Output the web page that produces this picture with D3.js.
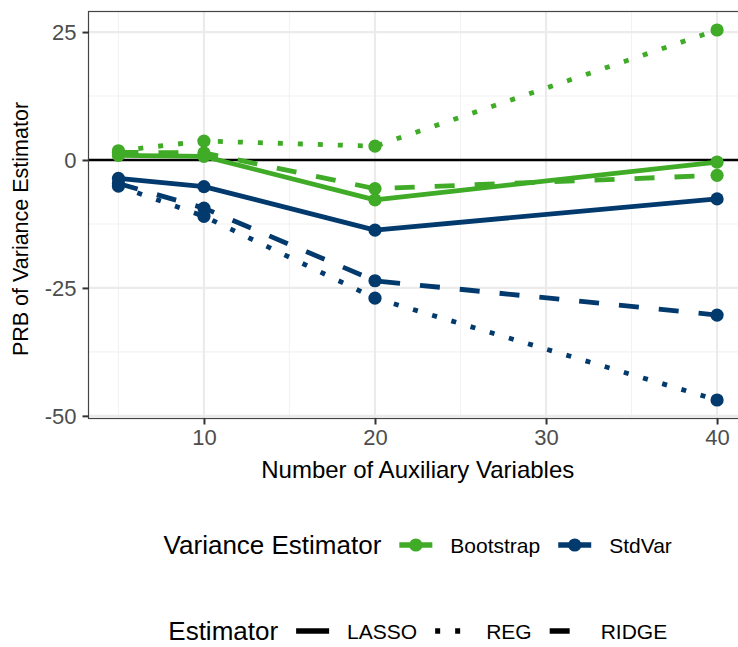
<!DOCTYPE html>
<html>
<head>
<meta charset="utf-8">
<script src="https://cdn.jsdelivr.net/npm/d3@7"></script>
<style>
  html, body { margin: 0; padding: 0; background: #fff; }
  svg { display: block; font-family: "Liberation Sans", Arial, Helvetica, sans-serif; }
</style>
</head>
<body>
<svg id="chart" width="738" height="647"></svg>
<script>
// ---- data ----
const auxVars = [5, 10, 20, 40];
const varianceEstimators = ["Bootstrap", "StdVar"];
const estimators = ["LASSO", "REG", "RIDGE"];
const bootstrapLASSO = [0.9, 0.7, -7.8, -0.4];
const bootstrapREG   = [1.8, 3.7, 2.7, 25.4];
const bootstrapRIDGE = [1.5, 1.4, -5.6, -3.0];
const stdvarLASSO    = [-3.6, -5.2, -13.7, -7.6];
const stdvarREG      = [-5.1, -11.0, -27.0, -46.9];
const stdvarRIDGE    = [-4.6, -9.4, -23.6, -30.3];
const xTicks = [10, 20, 30, 40];
const yTicks = [-50, -25, 0, 25];
const yTickLabels = ["-50", "-25", "0", "25"];

const seriesList = [
  { ve: "Bootstrap", est: "LASSO", values: bootstrapLASSO },
  { ve: "Bootstrap", est: "REG",   values: bootstrapREG },
  { ve: "Bootstrap", est: "RIDGE", values: bootstrapRIDGE },
  { ve: "StdVar",    est: "LASSO", values: stdvarLASSO },
  { ve: "StdVar",    est: "REG",   values: stdvarREG },
  { ve: "StdVar",    est: "RIDGE", values: stdvarRIDGE }
];

const colorScale = d3.scaleOrdinal().domain(varianceEstimators).range(["#3fab27", "#023a6e"]);
const dashScale = d3.scaleOrdinal().domain(estimators).range(["none", "5,15", "20,20"]);

// ---- layout ----
const svg = d3.select("#chart");
const P = { left: 88.5, top: 11.5, right: 747, bottom: 418.5 };

const allVals = seriesList.flatMap(s => s.values);
const yMin = d3.min(allVals), yMax = d3.max(allVals);
const yPad = (yMax - yMin) * 0.05;
const xMin = d3.min(auxVars), xMax = d3.max(auxVars);
const xPad = (xMax - xMin) * 0.05;

const x = d3.scaleLinear().domain([xMin - xPad, xMax + xPad]).range([P.left, P.right]);
const y = d3.scaleLinear().domain([yMin - yPad, yMax + yPad]).range([P.bottom, P.top]);

svg.append("defs").append("clipPath").attr("id", "panel")
  .append("rect").attr("x", P.left).attr("y", P.top)
  .attr("width", P.right - P.left).attr("height", P.bottom - P.top);

const panel = svg.append("g").attr("clip-path", "url(#panel)");

// grid
const yMinor = [-37.5, -12.5, 12.5];
const xMinor = [5, 15, 25, 35];
panel.selectAll(".ymin").data(yMinor).enter().append("line")
  .attr("x1", P.left).attr("x2", P.right)
  .attr("y1", d => y(d)).attr("y2", d => y(d))
  .attr("stroke", "#f2f2f2").attr("stroke-width", 1.1);
panel.selectAll(".xmin").data(xMinor).enter().append("line")
  .attr("y1", P.top).attr("y2", P.bottom)
  .attr("x1", d => x(d)).attr("x2", d => x(d))
  .attr("stroke", "#f2f2f2").attr("stroke-width", 1.1);
panel.selectAll(".ymaj").data(yTicks).enter().append("line")
  .attr("x1", P.left).attr("x2", P.right)
  .attr("y1", d => y(d)).attr("y2", d => y(d))
  .attr("stroke", "#ebebeb").attr("stroke-width", 2.2);
panel.selectAll(".xmaj").data(xTicks).enter().append("line")
  .attr("y1", P.top).attr("y2", P.bottom)
  .attr("x1", d => x(d)).attr("x2", d => x(d))
  .attr("stroke", "#ebebeb").attr("stroke-width", 2.2);

// zero line
panel.append("line")
  .attr("x1", P.left).attr("x2", P.right)
  .attr("y1", y(0)).attr("y2", y(0))
  .attr("stroke", "#000").attr("stroke-width", 2.6);

// lines
const lineGen = d3.line().x((d, i) => x(auxVars[i])).y(d => y(d));
panel.selectAll(".series").data(seriesList).enter().append("path")
  .attr("d", s => lineGen(s.values))
  .attr("fill", "none")
  .attr("stroke", s => colorScale(s.ve))
  .attr("stroke-width", 4.8)
  .attr("stroke-linecap", "butt")
  .attr("stroke-linejoin", "round")
  .attr("stroke-dasharray", s => dashScale(s.est));

// points
seriesList.forEach(s => {
  panel.selectAll(null).data(s.values).enter().append("circle")
    .attr("cx", (d, i) => x(auxVars[i]))
    .attr("cy", d => y(d))
    .attr("r", 6.6)
    .attr("fill", colorScale(s.ve));
});

// panel border
svg.append("rect").attr("x", P.left).attr("y", P.top)
  .attr("width", P.right - P.left).attr("height", P.bottom - P.top)
  .attr("fill", "none").attr("stroke", "#444").attr("stroke-width", 1.2);

// axes
const yAxis = d3.axisLeft(y).tickValues(yTicks).tickSize(6).tickPadding(6)
  .tickFormat((d, i) => yTickLabels[i]);
const gy = svg.append("g").attr("transform", `translate(${P.left},0)`).call(yAxis);
const xAxis = d3.axisBottom(x).tickValues(xTicks).tickSize(6).tickPadding(5).tickFormat(d => String(d));
const gx = svg.append("g").attr("transform", `translate(0,${P.bottom})`).call(xAxis);
[gx, gy].forEach(g => {
  g.select(".domain").remove();
  g.selectAll(".tick line").attr("stroke", "#333").attr("stroke-width", 2);
  g.selectAll(".tick text").attr("fill", "#4d4d4d").style("font-size", "22px")
    .style("font-family", "'Liberation Sans', Arial, sans-serif");
});
gy.selectAll(".tick text").attr("dy", "0.36em");

// axis titles
const cx = (P.left + P.right) / 2;
svg.append("text").attr("x", cx).attr("y", 478)
  .attr("text-anchor", "middle").style("font-size", "24px").attr("fill", "#000")
  .text("Number of Auxiliary Variables");
svg.append("text")
  .attr("transform", `translate(28,${(P.top + P.bottom) / 2 + 14}) rotate(-90)`)
  .attr("text-anchor", "middle").style("font-size", "21.5px").attr("fill", "#000")
  .text("PRB of Variance Estimator");

// legends
function buildLegend(yc, title, items, drawKey) {
  const g = svg.append("g");
  const t = g.append("text").attr("y", yc).attr("dy", "0.36em")
    .style("font-size", "26px").attr("fill", "#000").text(title);
  let pos = t.node().getComputedTextLength() + 18;
  items.forEach((it, i) => {
    const kg = g.append("g").attr("transform", `translate(${pos},${yc})`);
    drawKey(kg, it, 33);
    pos += 33 + 18;
    const lt = g.append("text").attr("x", pos).attr("y", yc).attr("dy", "0.36em")
      .style("font-size", "21px").attr("fill", "#000").text(it);
    pos += lt.node().getComputedTextLength() + (i < items.length - 1 ? 18 : 0);
  });
  g.attr("transform", `translate(${cx - pos / 2},0)`);
}

buildLegend(545, "Variance Estimator", varianceEstimators, (kg, it, w) => {
  kg.append("line").attr("x1", 0).attr("x2", w).attr("y1", 0).attr("y2", 0)
    .attr("stroke", colorScale(it)).attr("stroke-width", 5.5);
  kg.append("circle").attr("cx", w / 2).attr("cy", 0).attr("r", 6.6).attr("fill", colorScale(it));
});

buildLegend(631, "Estimator", estimators, (kg, it, w) => {
  kg.append("line").attr("x1", 0).attr("x2", w).attr("y1", 0).attr("y2", 0)
    .attr("stroke", "#000").attr("stroke-width", 5.5)
    .attr("stroke-dasharray", dashScale(it)).attr("stroke-linecap", "butt");
});
</script>
</body>
</html>
